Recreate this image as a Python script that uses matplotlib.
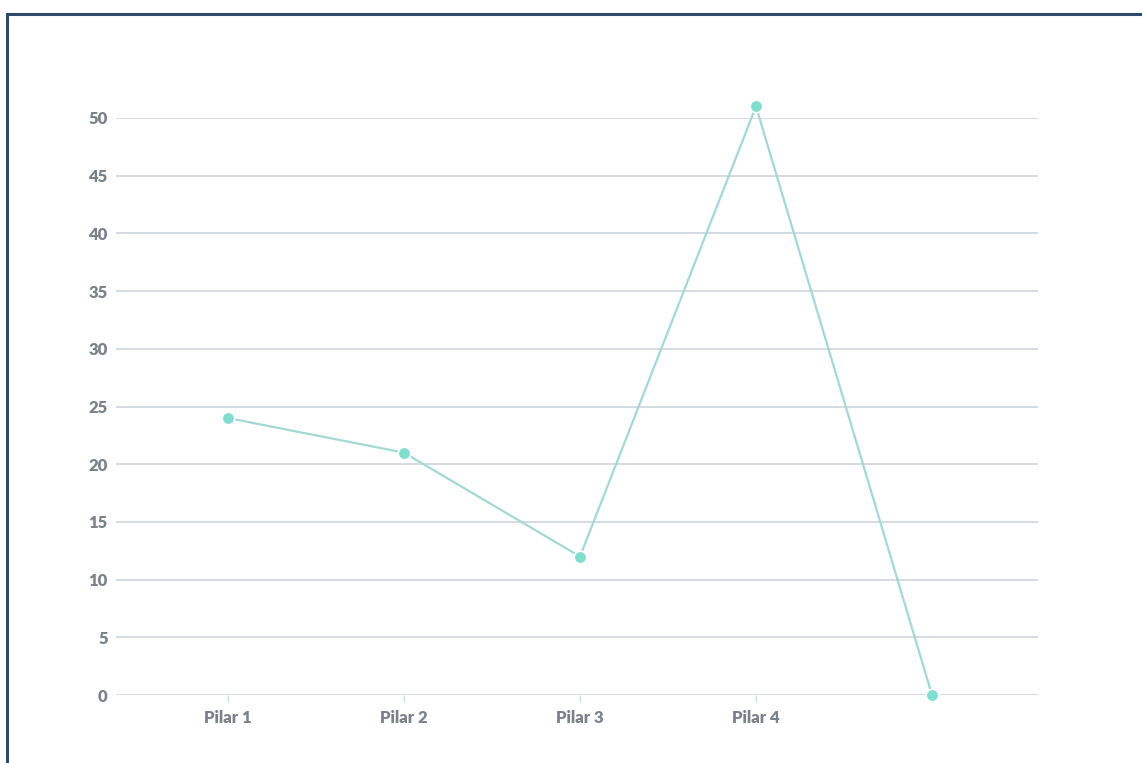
import matplotlib
matplotlib.use('Agg')
import matplotlib.pyplot as plt
from matplotlib.patches import Rectangle

# 데이터
categories = ["Pilar 1", "Pilar 2", "Pilar 3", "Pilar 4", ""]
values = [24, 21, 12, 51, 0]
y_ticks = [0, 5, 10, 15, 20, 25, 30, 35, 40, 45, 50]

W, H = 1142, 763
fig = plt.figure(figsize=(W / 100, H / 100), dpi=100)
fig.patch.set_facecolor('white')

# 외곽 테두리 (왼쪽/위쪽만 보임)
fig.add_artist(Rectangle((7 / W, -0.1), 1.2, (H - 14) / H + 0.1,
                         transform=fig.transFigure, fill=False,
                         edgecolor='#2d4a6a', linewidth=2.2))

left, right = 116 / W, 1038 / W
bottom, top = 1 - 695 / H, 1 - 118 / H
ax = fig.add_axes([left, bottom, right - left, top - bottom])

x = list(range(len(categories)))
ax.plot(x, values, color='#a3d8d3', linewidth=1.6, zorder=3, clip_on=False)
ax.plot(x, values, linestyle='none', marker='o', markersize=9,
        markerfacecolor='#80ddd0', markeredgecolor='white',
        markeredgewidth=1.2, zorder=4, clip_on=False)

ax.set_xlim(-112 / 176, 4 + 106 / 176)
ax.set_ylim(0, 50)
ax.set_yticks(y_ticks)
ax.set_xticks(x)
ax.set_xticklabels(categories)

for yv in y_ticks:
    ax.axhline(yv, color='#d4dae1', linewidth=1.4, zorder=1)

for s in ax.spines.values():
    s.set_visible(False)

ax.tick_params(axis='y', length=0, pad=6, labelsize=12, labelcolor='#7a8188')
ax.tick_params(axis='x', length=5, width=1, color='#d4dae1', pad=6,
               labelsize=12, labelcolor='#7a8188')
for lab in ax.get_xticklabels() + ax.get_yticklabels():
    lab.set_fontweight('heavy')
    lab.set_family('Lato')

fig.savefig('out.png', dpi=100)
